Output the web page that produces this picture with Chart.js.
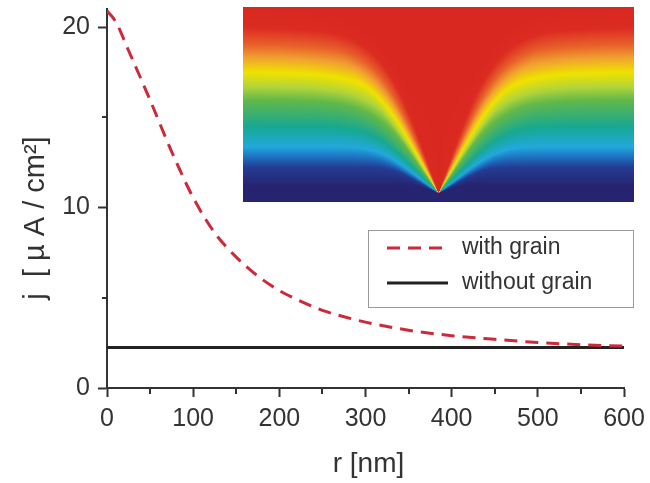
<!DOCTYPE html>
<html>
<head>
<meta charset="utf-8">
<script src="https://cdn.jsdelivr.net/npm/chart.js@4.4.0/dist/chart.umd.min.js"></script>
<style>
  html, body { margin: 0; padding: 0; background: #ffffff; }
  #wrap { width: 650px; height: 483px; position: relative; }
</style>
</head>
<body>
<div id="wrap"><canvas id="c" width="650" height="483"></canvas></div>
<script>
// Current density j [µA/cm²] versus radial distance r [nm]
const radius      = [0, 10, 25, 50, 75, 100, 125, 150, 175, 200, 225, 250, 275, 300, 350, 400, 450, 500, 550, 600];
const jWithGrain  = [20.9, 20.3, 18.7, 15.95, 13.1, 10.55, 8.6, 7.25, 6.2, 5.4, 4.8, 4.3, 3.95, 3.65, 3.2, 2.9, 2.7, 2.52, 2.4, 2.32];
const radiusFlat  = [0, 600];
const jNoGrain    = [2.25, 2.25];

const seriesLabels = ['with grain', 'without grain'];
const xTitle = 'r [nm]';
const yTitle = 'j  [ \u00B5 A / cm\u00B2]';

const FONT = '"Liberation Sans", Arial, Helvetica, sans-serif';
const INK = '#333333';
const RED = '#cc2a3a';
const DASH = [13, 8];

const toPoints = (xs, ys) => xs.map((x, i) => ({ x: x, y: ys[i] }));

// Colour ramp used for the inset field map (value 1 = top, 0 = bottom)
const rampStops = [
  [1.00, [216, 40, 31]],
  [0.89, [220, 44, 34]],
  [0.80, [232, 96, 42]],
  [0.73, [240, 160, 48]],
  [0.65, [240, 226, 0]],
  [0.57, [176, 212, 58]],
  [0.50, [98, 184, 74]],
  [0.36, [24, 168, 144]],
  [0.25, [34, 168, 220]],
  [0.20, [28, 120, 196]],
  [0.14, [36, 60, 148]],
  [0.04, [38, 36, 112]],
  [0.00, [38, 36, 112]]
];
function ramp(v) {
  for (let i = 0; i < rampStops.length - 1; i++) {
    const a = rampStops[i], b = rampStops[i + 1];
    if (v <= a[0] && v >= b[0]) {
      const t = (a[0] - v) / (a[0] - b[0] || 1);
      return [0, 1, 2].map(k => Math.round(a[1][k] + (b[1][k] - a[1][k]) * t));
    }
  }
  return v > 1 ? rampStops[0][1] : rampStops[rampStops.length - 1][1];
}

// Level reached along a ray from the grain tip, by angle from vertical (deg)
const angleStops = [[0, 1], [18, 0.95], [20, 0.89], [29, 0.65], [35, 0.5], [52, 0.25], [62, 0.12], [75, 0], [180, 0]];
function angleLevel(th) {
  for (let i = 0; i < angleStops.length - 1; i++) {
    const a = angleStops[i], b = angleStops[i + 1];
    if (th >= a[0] && th <= b[0]) return a[1] + (b[1] - a[1]) * (th - a[0]) / (b[0] - a[0]);
  }
  return 0;
}

// Field around the grain: horizontal bands bent into a funnel above the tip
function buildInset(w, h) {
  const off = document.createElement('canvas');
  off.width = w; off.height = h;
  const g = off.getContext('2d');
  const img = g.createImageData(w, h);
  const xc = w * 0.5, yt = h * 0.955;
  for (let y = 0; y < h; y++) {
    for (let x = 0; x < w; x++) {
      const hgt = yt - (y + 0.5);
      const dx = Math.abs(x + 0.5 - xc);
      const L = Math.max(0, Math.min(1, hgt / yt));
      const th = Math.atan2(dx, hgt) * 180 / Math.PI;
      const A = angleLevel(th);
      const v = Math.min(1, Math.pow(Math.pow(L, 4) + Math.pow(A, 4), 0.25));
      const c = ramp(v);
      const o = (y * w + x) * 4;
      img.data[o] = c[0]; img.data[o + 1] = c[1]; img.data[o + 2] = c[2]; img.data[o + 3] = 255;
    }
  }
  g.putImageData(img, 0, 0);
  return off;
}

const insetPlugin = {
  id: 'insetMap',
  afterDatasetsDraw(chart) {
    const a = chart.chartArea;
    const w = 391, h = 195;
    if (!this.img) this.img = buildInset(w, h);
    chart.ctx.drawImage(this.img, a.left + 136, a.top - 2, w, h);
  }
};

const minorTicksPlugin = {
  id: 'minorTicks',
  afterDraw(chart) {
    const ctx = chart.ctx, xs = chart.scales.x, ys = chart.scales.y;
    ctx.save();
    ctx.strokeStyle = INK;
    ctx.lineWidth = 2;
    ctx.beginPath();
    xs.ticks.forEach(t => {
      if (t.value % 100 !== 0) {
        const px = Math.round(xs.getPixelForValue(t.value));
        ctx.moveTo(px, ys.bottom); ctx.lineTo(px, ys.bottom + 6);
      }
    });
    ys.ticks.forEach(t => {
      if (t.value % 10 !== 0) {
        const py = Math.round(ys.getPixelForValue(t.value));
        ctx.moveTo(xs.left, py); ctx.lineTo(xs.left - 5, py);
      }
    });
    ctx.stroke();
    ctx.restore();
  }
};

const titlesPlugin = {
  id: 'axisTitles',
  afterDraw(chart) {
    const ctx = chart.ctx, a = chart.chartArea;
    ctx.save();
    ctx.fillStyle = INK;
    ctx.font = '28px ' + FONT;
    ctx.textAlign = 'center';
    ctx.textBaseline = 'alphabetic';
    ctx.fillText(xTitle, (a.left + a.right) / 2 + 3, 472);
    ctx.translate(44, 218);
    ctx.rotate(-Math.PI / 2);
    ctx.font = '29px ' + FONT;
    ctx.fillText(yTitle, 0, 0);
    ctx.restore();
  }
};

const legendPlugin = {
  id: 'boxLegend',
  afterDraw(chart) {
    const ctx = chart.ctx, a = chart.chartArea;
    const bx = a.right - 256, by = a.top + 221, bw = 265, bh = 77;
    ctx.save();
    ctx.fillStyle = '#ffffff';
    ctx.fillRect(bx, by, bw, bh);
    ctx.strokeStyle = '#9a9a9a';
    ctx.lineWidth = 1;
    ctx.strokeRect(bx + 0.5, by + 0.5, bw, bh);
    ctx.font = '23px ' + FONT;
    ctx.textBaseline = 'middle';
    ctx.textAlign = 'left';
    chart.data.datasets.forEach((ds, i) => {
      const cy = by + 18 + i * 35;
      ctx.beginPath();
      ctx.setLineDash(ds.borderDash || []);
      ctx.strokeStyle = ds.borderColor;
      ctx.lineWidth = 3;
      ctx.moveTo(bx + 19, cy); ctx.lineTo(bx + 80, cy);
      ctx.stroke();
      ctx.setLineDash([]);
      ctx.fillStyle = INK;
      ctx.fillText(ds.label, bx + 94, cy);
    });
    ctx.restore();
  }
};

new Chart(document.getElementById('c').getContext('2d'), {
  type: 'line',
  data: {
    datasets: [
      {
        label: seriesLabels[0],
        data: toPoints(radius, jWithGrain),
        borderColor: RED,
        borderWidth: 3,
        borderDash: DASH,
        pointRadius: 0,
        cubicInterpolationMode: 'monotone',
        fill: false
      },
      {
        label: seriesLabels[1],
        data: toPoints(radiusFlat, jNoGrain),
        borderColor: '#222222',
        borderWidth: 3,
        pointRadius: 0,
        fill: false
      }
    ]
  },
  options: {
    responsive: false,
    animation: false,
    devicePixelRatio: 1,
    layout: { padding: { top: 9, right: 26, left: 0, bottom: 0 } },
    plugins: { legend: { display: false }, tooltip: { enabled: false } },
    scales: {
      x: {
        type: 'linear',
        min: 0,
        max: 600,
        border: { display: true, color: INK, width: 2 },
        grid: {
          display: true,
          drawOnChartArea: false,
          drawTicks: true,
          tickLength: 9,
          tickWidth: 2,
          tickColor: c => (c.tick && c.tick.value % 100 === 0) ? INK : 'rgba(0,0,0,0)'
        },
        ticks: {
          stepSize: 50,
          autoSkip: false,
          maxRotation: 0,
          includeBounds: false,
          padding: 7,
          color: INK,
          font: { family: FONT, size: 25 },
          callback: v => (v % 100 === 0 ? String(v) : '')
        },
        afterFit: s => { s.height = 95; s.paddingLeft = 0; s.paddingRight = 0; }
      },
      y: {
        type: 'linear',
        min: 0,
        max: 21,
        border: { display: true, color: INK, width: 2 },
        grid: {
          display: true,
          drawOnChartArea: false,
          drawTicks: true,
          tickLength: 9,
          tickWidth: 2,
          tickColor: c => (c.tick && c.tick.value % 10 === 0) ? INK : 'rgba(0,0,0,0)'
        },
        ticks: {
          stepSize: 5,
          autoSkip: false,
          includeBounds: false,
          padding: 8,
          color: INK,
          font: { family: FONT, size: 25 },
          callback: v => (v % 10 === 0 ? String(v) : '')
        },
        afterFit: s => { s.width = 107; s.paddingTop = 0; s.paddingBottom = 0; }
      }
    }
  },
  plugins: [insetPlugin, minorTicksPlugin, titlesPlugin, legendPlugin]
});
</script>
</body>
</html>
